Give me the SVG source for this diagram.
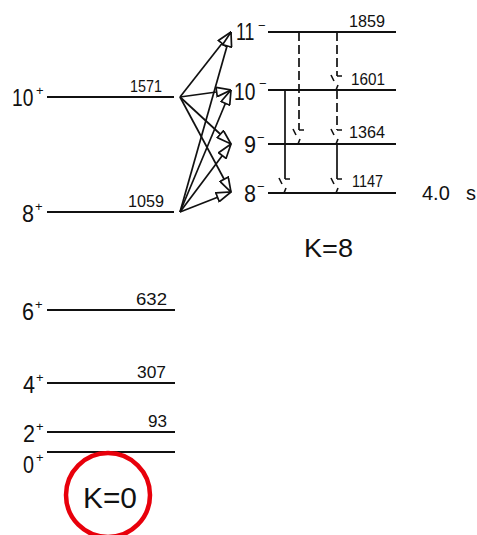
<svg xmlns="http://www.w3.org/2000/svg" width="477" height="535" viewBox="0 0 477 535">
<style>
.lvl{stroke:#111;stroke-width:1.8;fill:none}
.arr{stroke:#111;stroke-width:1.7;fill:none;marker-end:url(#tri)}
.vs{stroke:#111;stroke-width:1.7;fill:none}
.vd{stroke:#111;stroke-width:1.7;fill:none;stroke-dasharray:9 4}
.hd{stroke:#111;stroke-width:1.6;fill:none}
text{font-family:"Liberation Sans",Arial,sans-serif;fill:#111}
.sp{font-size:24px}
.sup{font-size:13px}
.en{font-size:17px}
</style>
<defs>
<marker id="tri" markerUnits="userSpaceOnUse" viewBox="0 0 16 11" markerWidth="16" markerHeight="11" refX="15.5" refY="5.5" orient="auto">
<path d="M1,0.8 L15.5,5.5 L1,10.2 Z" fill="#fff" stroke="#111" stroke-width="1.7"/>
</marker>
<g id="dh"><path class="hd" d="M-6,-15 L-3,-9 M0,-14 L5,-14 M-1,0 L1,-5"/></g>
</defs>
<g id="connectors">
<path class="arr" d="M180,97 L231,32"/>
<path class="arr" d="M180,97 L231,90"/>
<path class="arr" d="M180,97 L231,144"/>
<path class="arr" d="M180,97 L231,192"/>
<path class="arr" d="M180,212 L231,32"/>
<path class="arr" d="M180,212 L231,90"/>
<path class="arr" d="M180,212 L231,144"/>
<path class="arr" d="M180,212 L231,192"/>
<path class="vs" d="M285,90 V179"/>
<use href="#dh" x="285" y="193"/>
<path class="vd" d="M299,32 V130"/>
<use href="#dh" x="299" y="144"/>
<path class="vd" d="M337,32 V76"/>
<use href="#dh" x="337" y="90"/>
<path class="vd" d="M337,90 V130"/>
<use href="#dh" x="337" y="144"/>
<path class="vs" d="M337,144 V179"/>
<use href="#dh" x="337" y="193"/>
</g>
<g id="g10p">
<line class="lvl" x1="47" y1="97" x2="174" y2="97"/>
<text class="sp" transform="translate(12,106) scale(0.8,1)">10</text>
<text class="sup" x="36" y="95">+</text>
<text class="en" x="130" y="92" textLength="32" lengthAdjust="spacingAndGlyphs">1571</text>
</g>
<g id="g8p">
<line class="lvl" x1="47" y1="212" x2="174" y2="212"/>
<text class="sp" x="22" y="222" textLength="12" lengthAdjust="spacingAndGlyphs">8</text>
<text class="sup" x="35" y="211">+</text>
<text class="en" x="128" y="207" textLength="36" lengthAdjust="spacingAndGlyphs">1059</text>
</g>
<g id="g6p">
<line class="lvl" x1="47" y1="310" x2="175" y2="310"/>
<text class="sp" x="22" y="320" textLength="12" lengthAdjust="spacingAndGlyphs">6</text>
<text class="sup" x="35" y="309">+</text>
<text class="en" x="136" y="305" textLength="31" lengthAdjust="spacingAndGlyphs">632</text>
</g>
<g id="g4p">
<line class="lvl" x1="47" y1="383" x2="175" y2="383"/>
<text class="sp" x="23" y="393" textLength="12" lengthAdjust="spacingAndGlyphs">4</text>
<text class="sup" x="36" y="382">+</text>
<text class="en" x="137" y="378" textLength="29" lengthAdjust="spacingAndGlyphs">307</text>
</g>
<g id="g2p">
<line class="lvl" x1="47" y1="432" x2="175" y2="432"/>
<text class="sp" x="23" y="442" textLength="12" lengthAdjust="spacingAndGlyphs">2</text>
<text class="sup" x="36" y="431">+</text>
<text class="en" x="148" y="427" textLength="19" lengthAdjust="spacingAndGlyphs">93</text>
</g>
<g id="g0p">
<line class="lvl" x1="47" y1="452" x2="175" y2="452"/>
<text class="sp" x="23" y="473" textLength="11" lengthAdjust="spacingAndGlyphs">0</text>
<text class="sup" x="36" y="462">+</text>
</g>
<g id="g11m">
<line class="lvl" x1="268" y1="32" x2="396" y2="32"/>
<text class="sp" transform="translate(236,40) scale(0.74,1)">11</text>
<text class="sup" x="258" y="30">−</text>
<text class="en" x="349" y="27" textLength="36" lengthAdjust="spacingAndGlyphs">1859</text>
</g>
<g id="g10m">
<line class="lvl" x1="268" y1="90" x2="396" y2="90"/>
<text class="sp" transform="translate(234,100) scale(0.8,1)">10</text>
<text class="sup" x="259" y="88">−</text>
<text class="en" x="351" y="85" textLength="34" lengthAdjust="spacingAndGlyphs">1601</text>
</g>
<g id="g9m">
<line class="lvl" x1="268" y1="144" x2="396" y2="144"/>
<text class="sp" x="244" y="153" textLength="12" lengthAdjust="spacingAndGlyphs">9</text>
<text class="sup" x="257" y="142">−</text>
<text class="en" x="349" y="138" textLength="36" lengthAdjust="spacingAndGlyphs">1364</text>
</g>
<g id="g8m">
<line class="lvl" x1="268" y1="193" x2="396" y2="193"/>
<text class="sp" x="244" y="202" textLength="12" lengthAdjust="spacingAndGlyphs">8</text>
<text class="sup" x="257" y="191">−</text>
<text class="en" x="352" y="187" textLength="31" lengthAdjust="spacingAndGlyphs">1147</text>
<text style="font-size:20px" x="422" y="200">4.0 <tspan x="466">s</tspan></text>
</g>
<text id="k8" style="font-size:26px" x="304" y="257" textLength="49" lengthAdjust="spacingAndGlyphs">K=8</text>
<g id="k0">
<circle cx="108" cy="495" r="42" fill="none" stroke="#e8000b" stroke-width="4.5"/>
<text style="font-size:29px" x="83" y="508" textLength="54" lengthAdjust="spacingAndGlyphs">K=0</text>
</g>
</svg>
